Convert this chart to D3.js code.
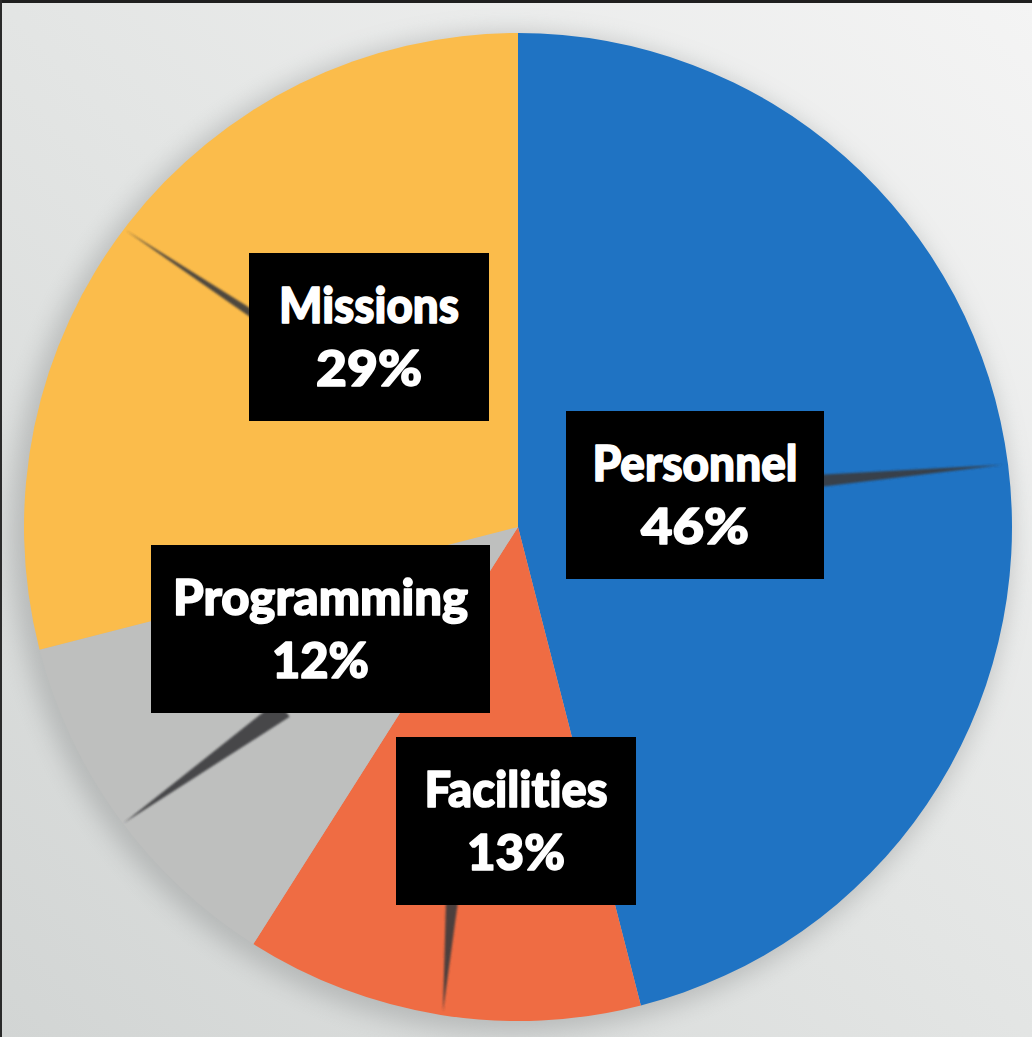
<!DOCTYPE html>
<html>
<head>
<meta charset="utf-8">
<script src="https://cdn.jsdelivr.net/npm/d3@7"></script>
<style>
  html, body { margin: 0; padding: 0; background: #e4e6e5; }
  svg { display: block; }
  text { font-variant-ligatures: none; font-feature-settings: "liga" 0, "clig" 0, "dlig" 0; }
</style>
</head>
<body>
<svg id="chart" width="1032" height="1037"></svg>
<script>
// ---- data ----
const categories = ["Personnel", "Facilities", "Programming", "Missions"];
const values = [46, 13, 12, 29];
const percentLabels = ["46%", "13%", "12%", "29%"];
const sliceColors = ["#1f73c3", "#ef6c43", "#bebfbe", "#fbbc4b"];

// ---- layout (not data) ----
const W = 1032, H = 1037;
const cx = 518, cy = 527, R = 494;
// label box centres and widths, per category (same order)
const boxLayout = [
  { x: 695, y: 495, w: 258 },
  { x: 516, y: 821, w: 240 },
  { x: 320.5, y: 629, w: 339 },
  { x: 369, y: 337, w: 240 }
];
const boxH = 168;
const textWidths = [[205, 108], [183, 98], [295, 97], [180, 106]];
// scanned "needle" shadows, in polar terms (deg, fraction of radius)
const needles = [
  { tipA: 82.7, tipR: 0.990, baseA: 81.3, baseR: 0.62, w: 12 },
  { tipA: 188.8, tipR: 0.993, baseA: 190.0, baseR: 0.77, w: 12 },
  { tipA: 233.1, tipR: 0.998, baseA: 232.2, baseR: 0.60, w: 20 },
  { tipA: 307.1, tipR: 0.996, baseA: 308.8, baseR: 0.68, w: 8 }
];

const svg = d3.select("#chart");
const defs = svg.append("defs");

const bg = defs.append("linearGradient").attr("id", "bg")
  .attr("x1", "1").attr("y1", "0").attr("x2", "0").attr("y2", "1");
bg.append("stop").attr("offset", "0").attr("stop-color", "#f4f4f4");
bg.append("stop").attr("offset", "0.5").attr("stop-color", "#e3e5e4");
bg.append("stop").attr("offset", "1").attr("stop-color", "#d2d5d4");

defs.append("filter").attr("id", "shadow").attr("x", "-20%").attr("y", "-20%")
  .attr("width", "140%").attr("height", "140%")
  .append("feGaussianBlur").attr("stdDeviation", 12);
defs.append("filter").attr("id", "soft")
  .append("feGaussianBlur").attr("stdDeviation", 1.2);

svg.append("rect").attr("width", W).attr("height", H).attr("fill", "url(#bg)");

const g = svg.append("g").attr("transform", `translate(${cx},${cy})`);

// drop shadow around pie
g.append("circle").attr("cx", -7).attr("cy", 6).attr("r", R + 6)
  .attr("fill", "#8e9191").attr("opacity", 0.45).attr("filter", "url(#shadow)");

const pie = d3.pie().sort(null).value(d => d.value);
const arc = d3.arc().innerRadius(0).outerRadius(R);
const rows = categories.map((c, i) => ({ cat: c, value: values[i], pct: percentLabels[i], color: sliceColors[i], i }));
const arcs = pie(rows);

g.selectAll("path.slice").data(arcs).join("path")
  .attr("class", "slice")
  .attr("d", arc)
  .attr("fill", d => d.data.color);

// needles
const rad = d3.scaleLinear().domain([0, 1]).range([0, R]);
const toRad = a => a * Math.PI / 180;
g.selectAll("path.needle").data(needles).join("path")
  .attr("class", "needle")
  .attr("d", n => {
    const tip = d3.pointRadial(toRad(n.tipA), rad(n.tipR));
    const base = d3.pointRadial(toRad(n.baseA), rad(n.baseR));
    const dx = tip[0] - base[0], dy = tip[1] - base[1];
    const len = Math.hypot(dx, dy);
    const px = -dy / len * n.w / 2, py = dx / len * n.w / 2;
    return `M${tip[0]},${tip[1]}L${base[0] + px},${base[1] + py}L${base[0] - px},${base[1] - py}Z`;
  })
  .attr("fill", "#3b3b3d")
  .attr("opacity", 0.9)
  .attr("filter", "url(#soft)");

// label boxes
const labels = svg.append("g");
const lg = labels.selectAll("g.lbl").data(rows).join("g").attr("class", "lbl")
  .attr("transform", d => `translate(${boxLayout[d.i].x},${boxLayout[d.i].y})`);
lg.append("rect")
  .attr("x", d => -boxLayout[d.i].w / 2).attr("y", -boxH / 2)
  .attr("width", d => boxLayout[d.i].w).attr("height", boxH)
  .attr("fill", "#000");
const fontFam = "Lato, 'Open Sans', sans-serif";
function styleText(sel) {
  sel.attr("text-anchor", "middle")
    .attr("font-family", fontFam).attr("font-weight", 900).attr("font-size", 50)
    .attr("fill", "#fff").attr("stroke", "#fff").attr("stroke-width", 1.6)
    .attr("stroke-linejoin", "round")
    .attr("lengthAdjust", "spacingAndGlyphs");
}
lg.append("text")
  .attr("x", 0).attr("y", -boxH / 2 + 70)
  .call(styleText)
  .attr("textLength", d => textWidths[d.i][0])
  .text(d => d.cat);
lg.append("text")
  .attr("x", 0).attr("y", -boxH / 2 + 133)
  .call(styleText)
  .attr("textLength", d => textWidths[d.i][1])
  .text(d => d.pct);

// scan frame edges
svg.append("rect").attr("x", 0).attr("y", 0).attr("width", W).attr("height", 3).attr("fill", "#1f1f1f");
svg.append("rect").attr("x", 0).attr("y", 0).attr("width", 2).attr("height", H).attr("fill", "#2a2a2a");
</script>
</body>
</html>
